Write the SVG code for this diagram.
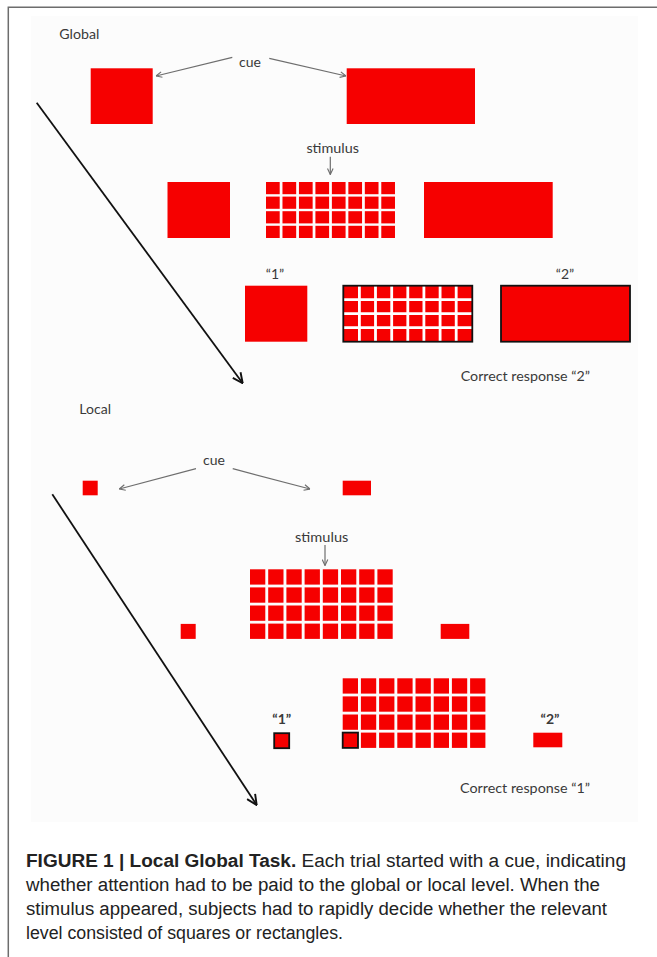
<svg xmlns="http://www.w3.org/2000/svg" xmlns:xlink="http://www.w3.org/1999/xlink" width="657" height="957" viewBox="0 0 657 957">
<style>
.lbl{font-family:Lato,"Open Sans","Liberation Sans",sans-serif;fill:#3a3a3a;font-size:14px}
.red{fill:#f60000}
.cue{stroke:#6e6e6e;stroke-width:1.2;fill:none}
.diag{stroke:#111;stroke-width:1.8;fill:none}
.cap{font-family:"Liberation Sans",Arial,sans-serif;font-size:18px;fill:#222}
</style>
<defs>
<marker id="ahGray" viewBox="0 0 10 10" refX="9.5" refY="5" markerWidth="7" markerHeight="7" markerUnits="userSpaceOnUse" orient="auto">
<path d="M1,1 L9.5,5 L1,9" fill="none" stroke="#6e6e6e" stroke-width="1.6"/>
</marker>
<marker id="ahBlack" viewBox="0 0 10 10" refX="9.5" refY="5" markerWidth="12" markerHeight="12" markerUnits="userSpaceOnUse" orient="auto">
<path d="M1,1 L9.5,5 L1,9" fill="none" stroke="#111" stroke-width="1.6"/>
</marker>
<g id="gRow">
<rect class="red" x="0" y="0" width="13.7" height="12.2"/>
<rect class="red" x="16.47" y="0" width="13.7" height="12.2"/>
<rect class="red" x="32.94" y="0" width="13.7" height="12.2"/>
<rect class="red" x="49.41" y="0" width="13.7" height="12.2"/>
<rect class="red" x="65.88" y="0" width="13.7" height="12.2"/>
<rect class="red" x="82.35" y="0" width="13.7" height="12.2"/>
<rect class="red" x="98.82" y="0" width="13.7" height="12.2"/>
<rect class="red" x="115.29" y="0" width="13.7" height="12.2"/>
</g>
<g id="lRow">
<rect class="red" x="0" y="0" width="15.3" height="15.3"/>
<rect class="red" x="18.2" y="0" width="15.3" height="15.3"/>
<rect class="red" x="36.4" y="0" width="15.3" height="15.3"/>
<rect class="red" x="54.6" y="0" width="15.3" height="15.3"/>
<rect class="red" x="72.8" y="0" width="15.3" height="15.3"/>
<rect class="red" x="91" y="0" width="15.3" height="15.3"/>
<rect class="red" x="109.2" y="0" width="15.3" height="15.3"/>
<rect class="red" x="127.4" y="0" width="15.3" height="15.3"/>
</g>
</defs>
<rect x="0" y="0" width="657" height="957" fill="#ffffff"/>
<rect x="31" y="16" width="607" height="806" fill="#fcfcfc"/>
<path d="M8.3,957 L8.3,7.3 L657,7.3" fill="none" stroke="#6d6d6d" stroke-width="1.5"/>

<g id="global-title"><text class="lbl" x="59.3" y="39.3" textLength="40" lengthAdjust="spacingAndGlyphs">Global</text></g>
<g id="global-cue"><text class="lbl" x="250" y="66.7" text-anchor="middle">cue</text></g>
<g id="g-cue-square"><rect class="red" x="90.7" y="68.3" width="62" height="55.7"/></g>
<g id="g-cue-rect"><rect class="red" x="346.7" y="68.3" width="128.3" height="55.7"/></g>

<g id="g-stim-label"><text class="lbl" x="332.7" y="152.7" text-anchor="middle" textLength="52.6" lengthAdjust="spacingAndGlyphs">stimulus</text></g>
<g id="g-stim-square"><rect class="red" x="167.5" y="182" width="62.5" height="56"/></g>
<g id="g-stim-grid">
<use xlink:href="#gRow" x="266" y="182"/>
<use xlink:href="#gRow" x="266" y="196.6"/>
<use xlink:href="#gRow" x="266" y="211.2"/>
<use xlink:href="#gRow" x="266" y="225.8"/>
</g>
<g id="g-stim-rect"><rect class="red" x="424" y="182" width="128.7" height="56"/></g>

<g id="g-resp-1">
<text class="lbl" x="275" y="279" text-anchor="middle">“1”</text>
<rect class="red" x="245" y="285.7" width="62.3" height="56"/>
</g>
<g id="g-resp-grid">
<rect class="red" x="343.3" y="285.7" width="129" height="56"/>
<path d="M359.4,285.7V341.7M375.5,285.7V341.7M391.7,285.7V341.7M407.8,285.7V341.7M423.9,285.7V341.7M440.1,285.7V341.7M456.2,285.7V341.7M343.3,299.7H472.3M343.3,313.7H472.3M343.3,327.7H472.3" stroke="#ffffff" stroke-width="2.8" fill="none"/>
<rect x="343.3" y="285.7" width="129" height="56" fill="none" stroke="#111" stroke-width="1.8"/>
</g>
<g id="g-resp-2">
<text class="lbl" x="565" y="279" text-anchor="middle">“2”</text>
<rect class="red" x="501" y="285.7" width="129" height="56" stroke="#111" stroke-width="1.8"/>
</g>
<g id="g-correct"><text class="lbl" x="460.7" y="381" textLength="129.3" lengthAdjust="spacingAndGlyphs">Correct response “2”</text></g>

<g id="local-title"><text class="lbl" x="79.3" y="414" textLength="31.7" lengthAdjust="spacingAndGlyphs">Local</text></g>
<g id="local-cue"><text class="lbl" x="214" y="465" text-anchor="middle">cue</text></g>
<g id="l-cue-square"><rect class="red" x="82.7" y="480.7" width="15" height="14.6"/></g>
<g id="l-cue-rect"><rect class="red" x="342.7" y="480.7" width="28.3" height="14.6"/></g>

<g id="l-stim-label"><text class="lbl" x="321.7" y="541.7" text-anchor="middle" textLength="53.3" lengthAdjust="spacingAndGlyphs">stimulus</text></g>
<g id="l-stim-square"><rect class="red" x="180.7" y="623.9" width="15" height="15"/></g>
<g id="l-stim-grid">
<use xlink:href="#lRow" x="250" y="569.3"/>
<use xlink:href="#lRow" x="250" y="587.4"/>
<use xlink:href="#lRow" x="250" y="605.5"/>
<use xlink:href="#lRow" x="250" y="623.6"/>
</g>
<g id="l-stim-rect"><rect class="red" x="440.7" y="623.9" width="28.6" height="15"/></g>

<g id="l-resp-1">
<text class="lbl" x="281.7" y="724" text-anchor="middle" font-size="11.5" font-weight="bold">“1”</text>
<rect class="red" x="274.2" y="733.2" width="15" height="15" stroke="#111" stroke-width="1.8"/>
</g>
<g id="l-resp-grid">
<use xlink:href="#lRow" x="342.7" y="678.3"/>
<use xlink:href="#lRow" x="342.7" y="696.4"/>
<use xlink:href="#lRow" x="342.7" y="714.5"/>
<use xlink:href="#lRow" x="342.7" y="732.6"/>
<rect x="342.7" y="732.6" width="15.3" height="15.3" fill="none" stroke="#111" stroke-width="1.8"/>
</g>
<g id="l-resp-2">
<text class="lbl" x="550" y="724" text-anchor="middle" font-size="11.5" font-weight="bold">“2”</text>
<rect class="red" x="533.3" y="732.7" width="29" height="14.6"/>
</g>
<g id="l-correct"><text class="lbl" x="460" y="793" textLength="130" lengthAdjust="spacingAndGlyphs">Correct response “1”</text></g>

<g id="connectors">
<line class="cue" x1="232.3" y1="57.3" x2="156" y2="76" marker-end="url(#ahGray)"/>
<line class="cue" x1="269.3" y1="58.3" x2="346" y2="76" marker-end="url(#ahGray)"/>
<line class="cue" x1="330.3" y1="156.7" x2="330.3" y2="174.5" marker-end="url(#ahGray)"/>
<line class="diag" x1="36.7" y1="102.7" x2="242.7" y2="383.3" marker-end="url(#ahBlack)"/>
<line class="cue" x1="196" y1="468.7" x2="119.3" y2="489" marker-end="url(#ahGray)"/>
<line class="cue" x1="232.7" y1="468.7" x2="310" y2="489" marker-end="url(#ahGray)"/>
<line class="cue" x1="325" y1="545" x2="325" y2="565.5" marker-end="url(#ahGray)"/>
<line class="diag" x1="52.3" y1="494.3" x2="256.7" y2="805" marker-end="url(#ahBlack)"/>
</g>

<g id="caption">
<text class="cap" x="26" y="867" textLength="600" lengthAdjust="spacingAndGlyphs"><tspan font-weight="bold">FIGURE 1 | Local Global Task.</tspan> Each trial started with a cue, indicating</text>
<text class="cap" x="26" y="891" textLength="574" lengthAdjust="spacingAndGlyphs">whether attention had to be paid to the global or local level. When the</text>
<text class="cap" x="26" y="915" textLength="581" lengthAdjust="spacingAndGlyphs">stimulus appeared, subjects had to rapidly decide whether the relevant</text>
<text class="cap" x="26" y="939" textLength="317" lengthAdjust="spacingAndGlyphs">level consisted of squares or rectangles.</text>
</g>
</svg>
